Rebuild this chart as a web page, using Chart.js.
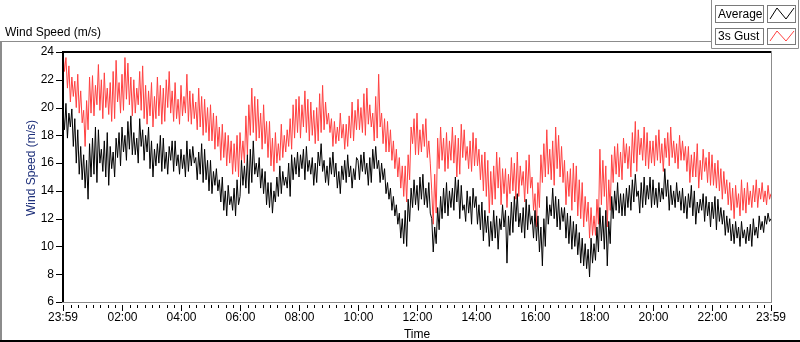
<!DOCTYPE html>
<html>
<head>
<meta charset="utf-8">
<script src="https://cdn.jsdelivr.net/npm/chart.js@4.4.1/dist/chart.umd.min.js"></script>
<style>
    html, body { margin: 0; padding: 0; background: #fff; }
    #wrap { width: 800px; height: 342px; position: relative; }
</style>
</head>
<body>
<div id="wrap"><canvas id="windChart" width="800" height="342"></canvas></div>
<script>
// --- Data (one sample every 3 minutes, 23:59 -> 23:59, 20 values per hour row) ---
const sampleStartMinute = -1;
const sampleStepMinutes = 3;

const averageSpeed = [
    19.8, 18.4, 20.3, 17.8, 19.6, 18.6, 19.9, 17.2, 19.2, 16.0, 18.4, 15.2, 17.2, 14.8, 16.6, 14.2, 16.2, 13.4, 17.4, 15.0,
    17.8, 15.2, 18.6, 14.6, 18.4, 16.0, 17.0, 15.4, 17.6, 15.0, 18.2, 14.4, 17.2, 15.6, 16.8, 15.0, 17.8, 16.4, 18.2, 15.8,
    18.6, 16.8, 18.0, 16.2, 19.0, 17.0, 19.4, 16.6, 18.2, 16.6, 17.8, 16.0, 19.2, 17.2, 18.4, 16.2, 18.0, 16.8, 18.6, 15.6,
    17.6, 15.0, 17.0, 15.8, 17.4, 16.0, 18.0, 15.4, 17.8, 15.6, 16.8, 15.2, 17.2, 16.2, 17.6, 15.4, 17.6, 15.8, 16.6, 15.2,
    17.0, 15.6, 16.6, 15.0, 17.6, 15.4, 17.0, 15.8, 17.2, 16.0, 16.4, 14.8, 16.8, 15.2, 17.4, 14.6, 17.0, 14.8, 16.2, 14.0,
    16.2, 13.8, 15.4, 14.4, 15.6, 14.0, 14.8, 13.2, 15.0, 12.6, 14.0, 12.2, 14.4, 13.0, 13.6, 12.6, 14.2, 12.2, 14.8, 13.0,
    13.6, 16.2, 14.4, 15.8, 14.2, 16.6, 13.8, 17.0, 14.6, 17.6, 15.2, 16.0, 15.0, 16.4, 14.2, 15.6, 13.8, 15.4, 13.0, 14.6,
    12.8, 14.6, 12.4, 14.0, 13.2, 15.0, 13.6, 15.8, 13.8, 15.4, 14.4, 15.0, 14.2, 16.0, 13.6, 16.6, 14.8, 16.4, 15.2, 16.8,
    15.0, 16.6, 15.6, 17.0, 14.8, 17.2, 15.4, 16.2, 15.2, 16.4, 14.4, 16.0, 14.6, 16.8, 15.8, 17.4, 15.4, 16.2, 14.6, 15.8,
    14.4, 16.4, 15.2, 16.8, 15.0, 16.0, 14.2, 15.4, 13.8, 15.8, 14.8, 16.2, 14.6, 16.6, 15.0, 15.8, 14.2, 15.6, 14.8, 16.4,
    16.2, 14.8, 16.6, 15.4, 16.8, 15.2, 16.0, 14.4, 16.4, 14.6, 17.0, 15.6, 17.2, 15.6, 16.2, 14.6, 16.0, 14.8, 15.6, 13.8,
    14.6, 13.4, 14.2, 12.6, 13.6, 12.2, 13.0, 11.6, 12.4, 10.6, 12.0, 10.2, 12.6, 10.0, 13.4, 11.8, 14.2, 12.8, 14.8, 13.0,
    14.4, 12.6, 15.0, 13.4, 15.2, 13.0, 14.2, 12.8, 14.6, 12.4, 12.0, 9.6, 11.4, 10.2, 12.8, 11.2, 13.6, 12.0, 14.2, 12.4,
    14.6, 12.2, 14.0, 12.8, 14.2, 12.6, 15.0, 13.2, 14.8, 12.0, 14.4, 12.6, 13.0, 11.8, 14.0, 12.4, 13.6, 11.6, 14.2, 12.8,
    13.6, 11.6, 13.0, 11.2, 13.2, 10.4, 12.6, 11.0, 12.2, 10.0, 11.8, 10.4, 12.6, 10.6, 12.2, 9.8, 12.0, 11.2, 13.0, 11.4,
    12.6, 8.8, 12.2, 10.8, 13.2, 11.0, 13.6, 11.8, 13.8, 11.4, 12.4, 11.0, 12.8, 10.6, 13.4, 11.2, 13.0, 11.6, 12.2, 10.6,
    12.6, 10.4, 12.2, 9.6, 11.4, 8.6, 12.0, 10.0, 13.6, 11.6, 13.0, 12.2, 14.2, 12.0, 13.6, 11.4, 13.4, 11.2, 12.8, 11.8,
    12.8, 10.6, 12.4, 10.2, 12.2, 9.8, 11.8, 10.0, 11.6, 9.4, 11.0, 8.8, 10.6, 8.6, 10.2, 8.4, 9.8, 7.8, 10.6, 8.8,
    10.2, 9.0, 11.4, 9.6, 12.8, 10.4, 12.2, 9.8, 12.6, 8.6, 11.8, 10.2, 13.6, 12.0, 14.0, 12.6, 14.6, 12.4, 13.8, 12.2,
    13.8, 12.2, 14.2, 12.8, 14.4, 12.6, 14.8, 13.2, 15.2, 13.6, 14.0, 12.4, 14.6, 12.8, 15.0, 13.0, 14.4, 13.4, 15.0, 12.8,
    14.8, 13.0, 14.2, 12.8, 14.6, 13.2, 14.2, 13.4, 15.6, 13.6, 14.8, 12.6, 14.4, 13.0, 14.0, 12.8, 14.6, 13.2, 14.0, 12.6,
    14.2, 12.4, 13.6, 12.0, 13.8, 12.8, 14.4, 12.2, 14.0, 11.6, 13.2, 12.4, 13.4, 12.6, 13.8, 11.8, 13.6, 12.2, 13.2, 11.4,
    13.2, 12.0, 13.6, 11.2, 13.4, 11.8, 12.8, 11.6, 12.6, 10.8, 12.2, 11.0, 12.0, 10.4, 11.6, 10.2, 11.8, 10.6, 11.4, 10.0,
    11.8, 10.6, 11.2, 10.2, 11.4, 10.4, 11.6, 10.0, 12.0, 10.8, 11.4, 10.6, 12.2, 11.2, 11.8, 11.0, 12.2, 11.6, 12.4, 11.8,
    12.0
];

const gustSpeed = [
    24.0, 22.6, 23.6, 21.4, 23.0, 20.4, 22.2, 20.8, 21.9, 20.0, 22.4, 19.6, 21.2, 18.9, 19.8, 17.2, 20.5, 18.4, 22.2, 19.6,
    22.3, 19.4, 21.6, 20.2, 23.1, 19.8, 22.0, 19.2, 22.5, 20.0, 21.4, 19.5, 21.8, 19.0, 22.6, 19.2, 23.4, 20.4, 21.8, 19.6,
    22.4, 19.8, 23.6, 20.6, 23.2, 20.2, 22.2, 19.4, 22.0, 19.6, 21.4, 20.2, 22.6, 19.8, 23.0, 19.2, 21.6, 18.8, 21.2, 19.4,
    21.8, 18.6, 20.8, 19.2, 22.2, 19.4, 21.6, 18.8, 21.4, 19.0, 22.0, 20.0, 22.6, 19.6, 21.2, 19.0, 21.8, 19.2, 20.6, 18.8,
    21.6, 19.4, 20.8, 19.6, 22.4, 19.0, 21.2, 18.8, 21.0, 19.2, 20.4, 18.4, 21.4, 18.6, 20.8, 18.0, 20.6, 18.2, 20.0, 17.6,
    20.2, 17.6, 19.6, 17.0, 19.4, 17.2, 18.6, 16.2, 18.8, 16.4, 18.2, 15.8, 18.0, 16.0, 17.6, 15.2, 17.4, 15.4, 18.0, 15.0,
    18.2, 16.2, 17.6, 16.0, 19.4, 16.6, 20.2, 18.0, 21.4, 18.2, 20.8, 17.6, 20.6, 17.8, 19.6, 17.0, 20.2, 17.4, 19.0, 16.4,
    19.0, 15.8, 17.8, 15.4, 18.2, 16.0, 17.4, 16.2, 18.8, 16.4, 18.0, 16.8, 18.4, 17.2, 19.2, 17.0, 20.2, 17.8, 20.6, 18.2,
    20.8, 17.8, 20.2, 18.6, 21.2, 18.2, 20.6, 17.6, 20.4, 18.0, 19.8, 17.4, 20.0, 17.6, 21.0, 18.2, 21.6, 18.4, 20.4, 18.8,
    19.6, 18.2, 19.2, 17.2, 19.0, 17.4, 18.6, 17.6, 19.6, 17.8, 18.8, 17.0, 18.8, 17.2, 19.4, 17.8, 20.4, 17.6, 19.8, 18.4,
    20.6, 18.4, 20.0, 18.2, 21.0, 18.0, 21.4, 18.8, 20.2, 18.6, 19.6, 17.6, 20.8, 17.8, 22.4, 18.6, 19.6, 17.4, 19.2, 16.8,
    19.0, 16.8, 18.4, 16.2, 17.6, 15.6, 17.0, 15.0, 16.4, 14.2, 15.8, 13.6, 15.8, 13.2, 16.6, 14.8, 18.6, 17.4, 19.2, 16.6,
    19.6, 16.6, 18.4, 16.8, 18.8, 17.2, 19.2, 16.4, 17.6, 16.0, 14.0, 11.6, 15.2, 12.4, 17.8, 15.6, 18.6, 16.2, 17.8, 15.4,
    18.2, 15.6, 17.6, 16.2, 18.6, 16.0, 18.0, 15.0, 17.8, 15.2, 18.8, 16.4, 18.4, 16.2, 17.2, 15.6, 17.6, 15.4, 18.2, 15.8,
    17.8, 15.8, 17.0, 14.8, 16.6, 14.0, 16.8, 13.6, 16.2, 12.4, 15.4, 13.0, 15.8, 13.4, 16.8, 14.2, 16.4, 13.0, 15.6, 13.8,
    15.6, 12.8, 15.2, 13.8, 16.4, 14.0, 16.0, 13.4, 16.8, 13.6, 15.8, 14.4, 15.4, 13.2, 16.2, 13.8, 16.6, 14.2, 15.0, 12.6,
    13.8, 11.4, 14.6, 12.8, 16.6, 14.6, 17.4, 15.0, 18.4, 15.2, 17.0, 14.8, 17.6, 14.4, 18.6, 15.6, 18.0, 15.0, 17.2, 14.6,
    16.2, 13.0, 15.4, 13.6, 15.6, 12.6, 16.0, 13.2, 15.8, 12.2, 14.8, 12.0, 14.6, 11.4, 13.6, 11.8, 13.2, 10.6, 12.8, 10.8,
    12.2, 10.8, 13.4, 11.6, 17.0, 13.0, 16.2, 13.6, 15.8, 11.4, 14.8, 12.6, 16.6, 14.6, 17.2, 15.2, 17.4, 15.0, 16.8, 14.8,
    17.8, 16.0, 17.4, 15.6, 17.2, 15.0, 18.2, 16.0, 19.0, 15.4, 18.4, 16.6, 17.8, 16.2, 18.6, 15.8, 18.2, 15.6, 17.6, 16.0,
    17.6, 15.8, 18.0, 16.2, 18.4, 16.0, 17.4, 15.4, 17.8, 16.4, 18.2, 15.8, 18.6, 16.4, 17.6, 16.0, 17.4, 15.6, 18.0, 16.2,
    17.6, 16.2, 17.2, 15.4, 17.2, 14.6, 16.6, 15.0, 16.8, 15.0, 17.4, 14.2, 16.2, 14.8, 17.0, 15.4, 16.4, 14.6, 16.8, 14.4,
    16.6, 14.4, 16.0, 14.2, 16.2, 14.0, 15.6, 13.4, 15.4, 13.8, 14.8, 13.0, 14.6, 12.6, 14.2, 12.0, 14.4, 12.8, 13.8, 12.2,
    14.8, 12.6, 14.2, 12.4, 14.6, 13.0, 14.0, 12.8, 14.4, 13.2, 14.8, 12.8, 14.2, 13.4, 14.6, 13.2, 14.0, 13.0, 14.4, 13.4,
    13.8
];

const timeTickValues = [-1, 120, 240, 360, 480, 600, 720, 840, 960, 1080, 1200, 1320, 1439];
const timeTickLabels = ['23:59', '02:00', '04:00', '06:00', '08:00', '10:00', '12:00',
                        '14:00', '16:00', '18:00', '20:00', '22:00', '23:59'];
const speedTicks = [6, 8, 10, 12, 14, 16, 18, 20, 22, 24];

const seriesNames = ['Average', '3s Gust'];
const seriesColors = ['#000000', '#ff4040'];

const toPoints = arr => arr.map((v, i) => ({ x: sampleStartMinute + i * sampleStepMinutes, y: v }));

const FONT = "'Liberation Sans', Arial, sans-serif";
const GREY = '#8c8c8c';

// frame, ticks, titles and legend in LabVIEW style
const framePlugin = {
    id: 'frame',
    afterDraw(chart) {
        const ctx = chart.ctx;
        const xs = chart.scales.x, ys = chart.scales.y;
        const a = chart.chartArea;
        ctx.save();

        // outer panel
        ctx.fillStyle = GREY;
        ctx.fillRect(0, 41, 712, 1);
        ctx.fillRect(0, 41, 2, 300);
        ctx.fillStyle = '#000';
        ctx.fillRect(0, 340, 800, 2);

        // legend panel
        ctx.strokeStyle = GREY;
        ctx.lineWidth = 1;
        ctx.beginPath();
        ctx.moveTo(711.5, 0); ctx.lineTo(711.5, 48.5); ctx.lineTo(798.5, 48.5); ctx.lineTo(798.5, 0);
        ctx.stroke();

        // plot frame
        ctx.fillStyle = '#000';
        ctx.fillRect(a.left - 1, a.top - 1, a.right - a.left + 1, 2);
        ctx.fillRect(a.left - 1, a.top - 1, 2, a.bottom - a.top + 1);
        ctx.fillStyle = GREY;
        ctx.fillRect(a.right, a.top - 1, 1, a.bottom - a.top + 2);
        ctx.fillRect(a.left - 1, a.bottom, a.right - a.left + 2, 1);

        // y tick marks
        ctx.fillStyle = '#000';
        speedTicks.forEach(v => {
            const py = Math.round(ys.getPixelForValue(v));
            ctx.fillRect(a.left - 7, py, 6, 1);
        });

        // x tick marks: majors every 2 h, minors every 15 min
        timeTickValues.forEach(v => {
            const px = Math.round(xs.getPixelForValue(v));
            ctx.fillRect(px, a.bottom + 3, 1, 6);
        });
        for (let m = 15; m < 1439; m += 15) {
            if (m % 120 === 0) continue;
            const px = Math.round(xs.getPixelForValue(m));
            ctx.fillRect(px, a.bottom + 3, 1, 3);
        }

        // titles
        ctx.fillStyle = '#000';
        ctx.font = '12px ' + FONT;
        ctx.textBaseline = 'alphabetic';
        ctx.textAlign = 'left';
        ctx.fillText('Wind Speed (m/s)', 5, 36);
        ctx.textAlign = 'center';
        ctx.fillText('Time', 417, 338);

        ctx.save();
        ctx.translate(35, 168);
        ctx.rotate(-Math.PI / 2);
        ctx.fillStyle = '#1d2f7a';
        ctx.fillText('Wind Speed (m/s)', 0, 0);
        ctx.restore();

        // legend
        const rows = [{ y: 5, h: 17, base: 18 }, { y: 28, h: 16, base: 40 }];
        rows.forEach((r, i) => {
            ctx.strokeStyle = '#7a7a7a';
            ctx.lineWidth = 1;
            ctx.strokeRect(715.5, r.y + 0.5, 48, r.h);
            ctx.strokeRect(767.5, r.y + 0.5, 28, r.h);
            ctx.fillStyle = '#000';
            ctx.textAlign = 'left';
            ctx.fillText(seriesNames[i], 718, r.base);
            ctx.strokeStyle = seriesColors[i];
            ctx.beginPath();
            ctx.moveTo(770, r.y + r.h - 3);
            ctx.lineTo(777, r.y + 3);
            ctx.lineTo(786, r.y + r.h - 3);
            ctx.lineTo(794, r.y + 3);
            ctx.stroke();
        });

        ctx.restore();
    }
};

const chart = new Chart(document.getElementById('windChart').getContext('2d'), {
    type: 'line',
    data: {
        datasets: [
            { label: seriesNames[0], data: toPoints(averageSpeed), borderColor: seriesColors[0], borderWidth: 1, pointRadius: 0, tension: 0 },
            { label: seriesNames[1], data: toPoints(gustSpeed), borderColor: seriesColors[1], borderWidth: 1, pointRadius: 0, tension: 0 }
        ]
    },
    options: {
        responsive: false,
        animation: false,
        devicePixelRatio: 1,
        layout: { padding: { top: 52, right: 29, left: 0, bottom: 0 } },
        plugins: { legend: { display: false }, tooltip: { enabled: false } },
        scales: {
            x: {
                type: 'linear',
                min: -1,
                max: 1439,
                afterFit: s => { s.height = 40; },
                afterBuildTicks: s => { s.ticks = timeTickValues.map(v => ({ value: v })); },
                grid: { display: false, drawTicks: true, tickLength: 8 },
                border: { display: false },
                ticks: {
                    autoSkip: false,
                    maxRotation: 0,
                    padding: 0,
                    color: '#000',
                    font: { family: FONT, size: 12 },
                    callback: (v) => timeTickLabels[timeTickValues.indexOf(v)]
                }
            },
            y: {
                min: 6,
                max: 24,
                afterFit: s => { s.width = 63; },
                grid: { display: false, drawTicks: true, tickLength: 6 },
                border: { display: false },
                ticks: {
                    stepSize: 2,
                    padding: 3,
                    color: '#000',
                    font: { family: FONT, size: 12 }
                }
            }
        }
    },
    plugins: [framePlugin]
});
</script>
</body>
</html>
